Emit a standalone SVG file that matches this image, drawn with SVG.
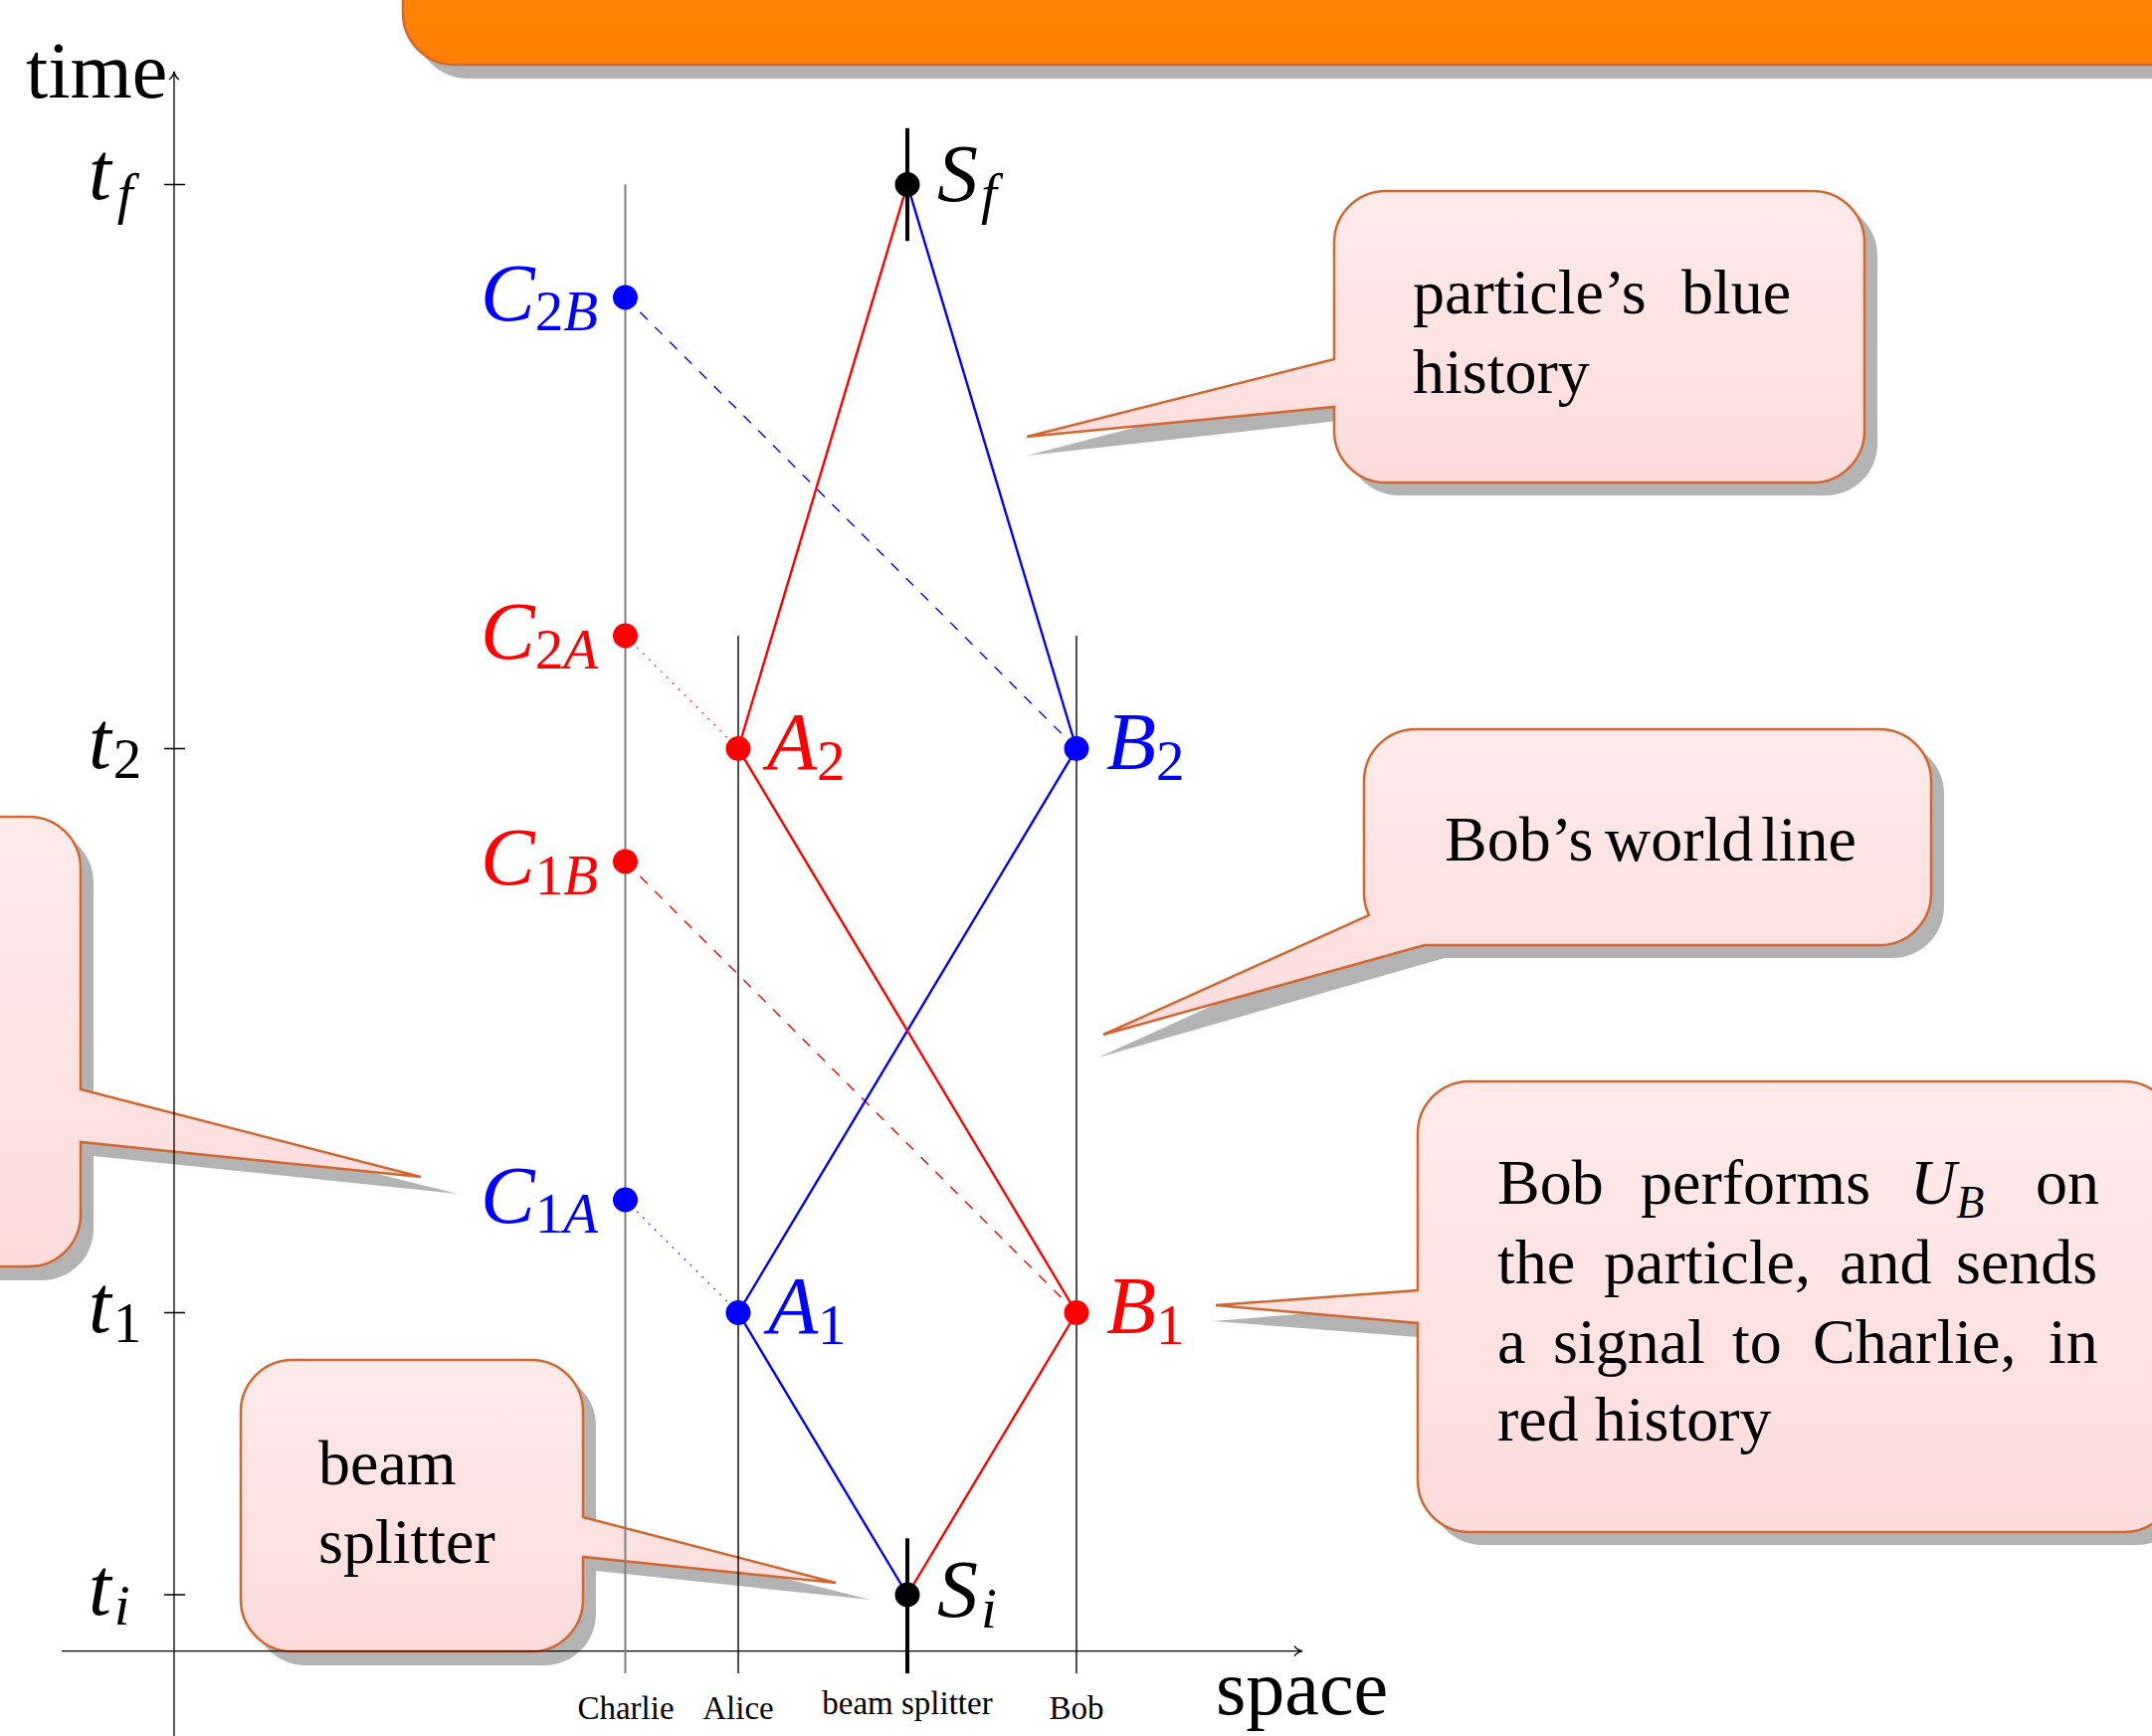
<svg xmlns="http://www.w3.org/2000/svg" width="2163" height="1745" viewBox="0 0 2163 1745">
<defs>
<linearGradient id="pink" x1="0" y1="0" x2="0" y2="1"><stop offset="0" stop-color="#FFEAEA"/><stop offset="1" stop-color="#FDDCDC"/></linearGradient>
<linearGradient id="orange" x1="0" y1="0" x2="0" y2="1"><stop offset="0" stop-color="#FF8C16"/><stop offset="1" stop-color="#FF7F00"/></linearGradient>
<style>
.shadow{fill:#B3B3B3}
.callout{fill:url(#pink);stroke:#D06830;stroke-width:2.5;stroke-linejoin:miter}
.ct{font-family:"Liberation Serif",serif;font-size:64px;fill:#000}
.m{font-family:"Liberation Serif",serif;font-style:italic;font-size:82px}
.s{font-size:57px}
.up{font-style:normal}
.rm{font-family:"Liberation Serif",serif;fill:#000}
.axis{stroke:#000;stroke-width:1.3;fill:none}
.wl{stroke:#000;stroke-width:1.4;fill:none}
.wlc{stroke:#7F7F7F;stroke-width:2;fill:none}
.bs{stroke:#000;stroke-width:4;fill:none}
.blue{stroke:#0000FF;stroke-width:2.4;fill:none;stroke-linejoin:round}
.red{stroke:#FF0000;stroke-width:2.4;fill:none;stroke-linejoin:round}
.dash{stroke-width:1.4;stroke-dasharray:10.5 10.5}
.dot{stroke-width:1.4;stroke-dasharray:1.4 7}
.bl{fill:#0000FF}
.rd{fill:#FF0000}
.bk{fill:#000}
</style>
</defs>
<rect width="2163" height="1745" fill="#fff"/>

<g id="callout-top">
<path class="shadow" d="M 418,-100 V 27 A 52 52 0 0 0 470,79 H 2300 V -100 Z"/>
<path d="M 405,-100 V 13 A 52 52 0 0 0 457,65 H 2300 V -100 Z" fill="url(#orange)" stroke="#D06830" stroke-width="2.5"/>
</g>

<g id="callout-left">
<path class="shadow" d="M -235,835 H 42 A 52 52 0 0 1 94,887 V 1109 L 460,1200 L 94,1162 V 1235 A 52 52 0 0 1 42,1287 H -235 Z"/>
<path class="callout" d="M -248,821 H 29 A 52 52 0 0 1 81,873 V 1095 L 423,1183 L 81,1148 V 1221 A 52 52 0 0 1 29,1273 H -248 Z"/>
</g>

<g id="callout-beam-splitter">
<path class="shadow" d="M 307,1381 H 547 A 52 52 0 0 1 599,1433 V 1539 L 875,1608 L 599,1579 V 1622 A 52 52 0 0 1 547,1674 H 307 A 52 52 0 0 1 255,1622 V 1433 A 52 52 0 0 1 307,1381 Z"/>
<path class="callout" d="M 294,1367 H 534 A 52 52 0 0 1 586,1419 V 1525 L 840,1591 L 586,1565 V 1608 A 52 52 0 0 1 534,1660 H 294 A 52 52 0 0 1 242,1608 V 1419 A 52 52 0 0 1 294,1367 Z"/>
<text class="ct" x="320" y="1492" font-size="65">beam</text>
<text class="ct" x="320" y="1571" font-size="65">splitter</text>
</g>

<g id="callout-blue-history">
<path class="shadow" d="M 1406,205 H 1835 A 52 52 0 0 1 1887,257 V 446 A 52 52 0 0 1 1835,498 H 1406 A 52 52 0 0 1 1354,446 V 422 L 1032,458 L 1354,374 V 257 A 52 52 0 0 1 1406,205 Z"/>
<path class="callout" d="M 1393,192 H 1822 A 52 52 0 0 1 1874,244 V 433 A 52 52 0 0 1 1822,485 H 1393 A 52 52 0 0 1 1341,433 V 409 L 1032,439 L 1341,361 V 244 A 52 52 0 0 1 1393,192 Z"/>
<text class="ct" x="1420" y="315">particle’s</text>
<text class="ct" x="1690" y="315">blue</text>
<text class="ct" x="1420" y="395">history</text>
</g>

<g id="callout-bob-world-line">
<path class="shadow" d="M 1436,746 H 1902 A 52 52 0 0 1 1954,798 V 911 A 52 52 0 0 1 1902,963 H 1452 L 1104,1063 L 1389,933 A 52 52 0 0 1 1384,911 V 798 A 52 52 0 0 1 1436,746 Z"/>
<path class="callout" d="M 1423,733 H 1889 A 52 52 0 0 1 1941,785 V 898 A 52 52 0 0 1 1889,950 H 1432 L 1109,1040 L 1376,920 A 52 52 0 0 1 1371,898 V 785 A 52 52 0 0 1 1423,733 Z"/>
<text class="ct" x="1452" y="865" font-size="61">Bob’s</text>
<text class="ct" x="1613" y="865" font-size="61">world</text>
<text class="ct" x="1770" y="865" font-size="61">line</text>
</g>

<g id="callout-bob-performs">
<path class="shadow" d="M 1490,1100 H 2148 A 52 52 0 0 1 2200,1152 V 1501 A 52 52 0 0 1 2148,1553 H 1490 A 52 52 0 0 1 1438,1501 V 1345 L 1219,1328 L 1438,1310 V 1152 A 52 52 0 0 1 1490,1100 Z"/>
<path class="callout" d="M 1477,1087 H 2135 A 52 52 0 0 1 2187,1139 V 1488 A 52 52 0 0 1 2135,1540 H 1477 A 52 52 0 0 1 1425,1488 V 1330 L 1222,1312 L 1425,1297 V 1139 A 52 52 0 0 1 1477,1087 Z"/>
<text class="ct" x="1505" y="1210">Bob</text>
<text class="ct" x="1649" y="1210">performs</text>
<text class="ct" x="1920" y="1210" font-style="italic">U<tspan font-size="46" dy="14">B</tspan></text>
<text class="ct" x="2046" y="1210">on</text>
<text class="ct" x="1505" y="1290">the</text>
<text class="ct" x="1612" y="1290">particle,</text>
<text class="ct" x="1849" y="1290">and</text>
<text class="ct" x="1966" y="1290">sends</text>
<text class="ct" x="1505" y="1370">a</text>
<text class="ct" x="1561" y="1370">signal</text>
<text class="ct" x="1741" y="1370">to</text>
<text class="ct" x="1822" y="1370">Charlie,</text>
<text class="ct" x="2059" y="1370">in</text>
<text class="ct" x="1505" y="1448">red history</text>
</g>

<g id="axes">
<path class="axis" d="M 175,1745 V 72"/>
<path class="axis" d="M 170,80 Q 174,77 175,72 Q 176,77 180,80"/>
<path class="axis" d="M 62,1659.7 H 1309"/>
<path class="axis" d="M 1301,1654.7 Q 1304,1658.7 1309,1659.7 Q 1304,1660.7 1301,1664.7"/>
<path class="axis" d="M 165,185.5 H 186 M 165,752.5 H 186 M 165,1319.5 H 186 M 165,1603 H 186"/>
<text class="rm" x="26" y="98" font-size="80">time</text>
<text class="rm" x="1222" y="1723" font-size="78">space</text>
<text class="m" x="89" y="200">t<tspan class="s" dx="6" dy="14">f</tspan></text>
<text class="m" x="89" y="772">t<tspan class="s up" dx="2" dy="10">2</tspan></text>
<text class="m" x="89" y="1339">t<tspan class="s up" dx="2" dy="10">1</tspan></text>
<text class="m" x="89" y="1623">t<tspan class="s" dx="3" dy="10">i</tspan></text>
</g>

<g id="world-lines">
<path class="wlc" d="M 628.5,185.5 V 1682"/>
<path class="wl" d="M 742,639 V 1682"/>
<path class="wl" d="M 1082,639 V 1682"/>
<path class="bs" d="M 912,128.8 V 242.2"/>
<path class="bs" d="M 912,1546.3 V 1682"/>
<g class="rm" font-size="33" text-anchor="middle">
<text x="629" y="1728">Charlie</text>
<text x="742" y="1728">Alice</text>
<text x="912" y="1723">beam splitter</text>
<text x="1082" y="1728">Bob</text>
</g>
</g>

<g id="connectors">
<path class="blue dot" d="M 628.5,1206 L 742,1319.5"/>
<path class="red dash" d="M 628.5,866 L 1082,1319.5"/>
<path class="red dot" d="M 628.5,639 L 742,752.5"/>
<path class="blue dash" d="M 628.5,299 L 1082,752.5"/>
<path class="blue" d="M 912,1603 L 742,1319.5 L 1082,752.5 L 912,185.5"/>
<path class="red" d="M 912,1603 L 1082,1319.5 L 742,752.5 L 912,185.5"/>
</g>

<g id="node-Sf"><circle class="bk" cx="912" cy="185.5" r="12.5"/><text class="m bk" x="942" y="202">S<tspan class="s" dx="3" dy="12">f</tspan></text></g>
<g id="node-Si"><circle class="bk" cx="912" cy="1603" r="12.5"/><text class="m bk" x="942" y="1625">S<tspan class="s" dx="3" dy="11">i</tspan></text></g>
<g id="node-A1"><circle class="bl" cx="742" cy="1319.5" r="12.5"/><text class="m bl" x="772" y="1340">A<tspan class="s up" dy="11">1</tspan></text></g>
<g id="node-A2"><circle class="rd" cx="742" cy="752.5" r="12.5"/><text class="m rd" x="771" y="773">A<tspan class="s up" dy="11">2</tspan></text></g>
<g id="node-B1"><circle class="rd" cx="1082" cy="1319.5" r="12.5"/><text class="m rd" x="1112" y="1340">B<tspan class="s up" dy="11">1</tspan></text></g>
<g id="node-B2"><circle class="bl" cx="1082" cy="752.5" r="12.5"/><text class="m bl" x="1112" y="773">B<tspan class="s up" dy="11">2</tspan></text></g>
<g id="node-C2B"><circle class="bl" cx="628.5" cy="299" r="12.5"/><text class="m bl" x="601" y="322" text-anchor="end">C<tspan class="s up" dy="10">2</tspan><tspan class="s">B</tspan></text></g>
<g id="node-C2A"><circle class="rd" cx="628.5" cy="639" r="12.5"/><text class="m rd" x="601" y="662" text-anchor="end">C<tspan class="s up" dy="10">2</tspan><tspan class="s">A</tspan></text></g>
<g id="node-C1B"><circle class="rd" cx="628.5" cy="866" r="12.5"/><text class="m rd" x="601" y="889" text-anchor="end">C<tspan class="s up" dy="10">1</tspan><tspan class="s">B</tspan></text></g>
<g id="node-C1A"><circle class="bl" cx="628.5" cy="1206" r="12.5"/><text class="m bl" x="601" y="1229" text-anchor="end">C<tspan class="s up" dy="10">1</tspan><tspan class="s">A</tspan></text></g>
</svg>
